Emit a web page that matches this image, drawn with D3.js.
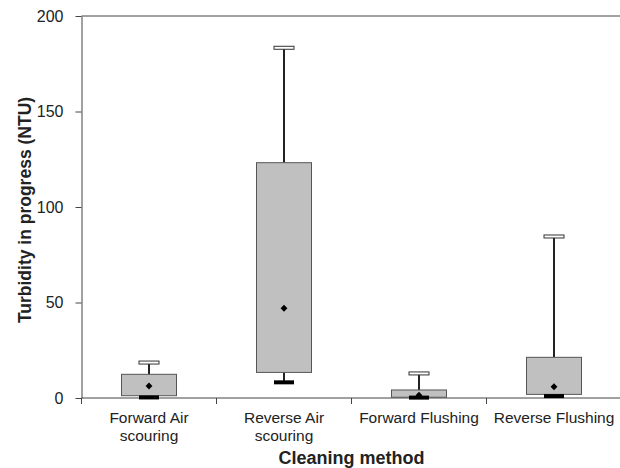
<!DOCTYPE html>
<html>
<head>
<meta charset="utf-8">
<script src="https://cdn.jsdelivr.net/npm/d3@7"></script>
<style>
  body { margin: 0; background: #fff; }
  svg { display: block; font-family: "Liberation Sans", Arial, sans-serif; }
</style>
</head>
<body>
<div id="chart"></div>
<script>
// Turbidity box plot per cleaning method
const methods = ["Forward Air scouring", "Reverse Air scouring", "Forward Flushing", "Reverse Flushing"];
const methodLabels = [["Forward Air", "scouring"], ["Reverse Air", "scouring"], ["Forward Flushing"], ["Reverse Flushing"]];
const whiskerLow = [0.3, 8.2, 0.2, 1.0];
const boxLow = [1.2, 13.4, 0.4, 1.9];
const boxHigh = [12.4, 123.2, 4.2, 21.3];
const whiskerHigh = [18.3, 183.1, 12.6, 84.3];
const means = [6.3, 47.0, 1.5, 5.9];
const yTicks = [0, 50, 100, 150, 200];

const boxes = methods.map((m, i) => ({
  method: m, label: methodLabels[i],
  lo: whiskerLow[i], q1: boxLow[i], q3: boxHigh[i], hi: whiskerHigh[i], mean: means[i]
}));

const W = 620, H = 468;
const margin = { top: 16, right: -1.5, bottom: 70, left: 81.5 };
const width = W - margin.left - margin.right;
const height = H - margin.top - margin.bottom;

const svg = d3.select("#chart").append("svg")
  .attr("width", W).attr("height", H)
  .append("g")
  .attr("transform", `translate(${margin.left},${margin.top})`);

const x = d3.scaleBand().domain(methods).range([0, width]).padding(0);
const y = d3.scaleLinear().domain([0, 200]).range([height, 0]);

const axisColor = "#444";
const textColor = "#222";

// frame: top line
svg.append("line")
  .attr("x1", 0).attr("x2", width)
  .attr("y1", y(200)).attr("y2", y(200))
  .attr("stroke", axisColor).attr("stroke-width", 1);

// y axis
const yAxis = svg.append("g")
  .call(d3.axisLeft(y).tickValues(yTicks).tickSize(6).tickSizeOuter(0).tickPadding(12));
yAxis.select(".domain").attr("stroke", axisColor);
yAxis.selectAll(".tick line").attr("stroke", axisColor);
yAxis.selectAll("text")
  .attr("font-size", 16).attr("fill", textColor)
  .style("font-family", "'Liberation Sans', Arial, sans-serif");

// x axis: line with ticks at category boundaries
const xAxis = svg.append("g").attr("transform", `translate(0,${height})`);
xAxis.append("line")
  .attr("x1", 0).attr("x2", width)
  .attr("stroke", axisColor).attr("stroke-width", 1);
const bounds = methods.map(m => x(m)).concat([x.range()[1]]);
xAxis.selectAll(".btick").data(bounds).enter().append("line")
  .attr("x1", d => d).attr("x2", d => d)
  .attr("y1", 0).attr("y2", 6)
  .attr("stroke", axisColor);

// category labels
const labels = xAxis.selectAll(".xlab").data(boxes).enter().append("text")
  .attr("text-anchor", "middle")
  .attr("font-size", 15.5)
  .attr("fill", textColor)
  .attr("transform", d => `translate(${x(d.method) + x.bandwidth() / 2},25)`);
labels.selectAll("tspan").data(d => d.label).enter().append("tspan")
  .attr("x", 0)
  .attr("dy", (d, i) => i === 0 ? 0 : 18)
  .text(d => d);

// boxes
const boxW = 55, capW = 20;
const g = svg.selectAll(".box").data(boxes).enter().append("g")
  .attr("transform", d => `translate(${x(d.method) + x.bandwidth() / 2},0)`);

// upper whisker
g.append("line")
  .attr("x1", 0).attr("x2", 0)
  .attr("y1", d => y(d.q3)).attr("y2", d => y(d.hi))
  .attr("stroke", "#222").attr("stroke-width", 2);
// lower whisker
g.append("line")
  .attr("x1", 0).attr("x2", 0)
  .attr("y1", d => y(d.q1)).attr("y2", d => y(d.lo))
  .attr("stroke", "#222").attr("stroke-width", 2);

g.append("rect")
  .attr("x", -boxW / 2).attr("width", boxW)
  .attr("y", d => y(d.q3))
  .attr("height", d => y(d.q1) - y(d.q3))
  .attr("fill", "#c0c0c0")
  .attr("stroke", "#555").attr("stroke-width", 1);

// upper cap (hollow)
g.append("rect")
  .attr("x", -capW / 2).attr("width", capW)
  .attr("y", d => y(d.hi) - 2).attr("height", 3)
  .attr("fill", "#fff")
  .attr("stroke", "#333").attr("stroke-width", 1);
// lower cap (solid)
g.append("rect")
  .attr("x", -capW / 2).attr("width", capW)
  .attr("y", d => y(d.lo) - 2).attr("height", 4)
  .attr("fill", "#000");

// mean marker
g.append("path")
  .attr("d", d3.symbol().type(d3.symbolDiamond2).size(30))
  .attr("transform", d => `translate(0,${y(d.mean)})`)
  .attr("fill", "#000");

// axis titles
svg.append("text")
  .attr("x", 351.5 - margin.left)
  .attr("y", height + 66)
  .attr("text-anchor", "middle")
  .attr("font-size", 18).attr("font-weight", "bold")
  .attr("fill", textColor)
  .text("Cleaning method");

svg.append("text")
  .attr("transform", `translate(${31 - margin.left},${210 - margin.top}) rotate(-90)`)
  .attr("text-anchor", "middle")
  .attr("font-size", 17.5).attr("font-weight", "bold")
  .attr("fill", textColor)
  .text("Turbidity in progress (NTU)");
</script>
</body>
</html>
